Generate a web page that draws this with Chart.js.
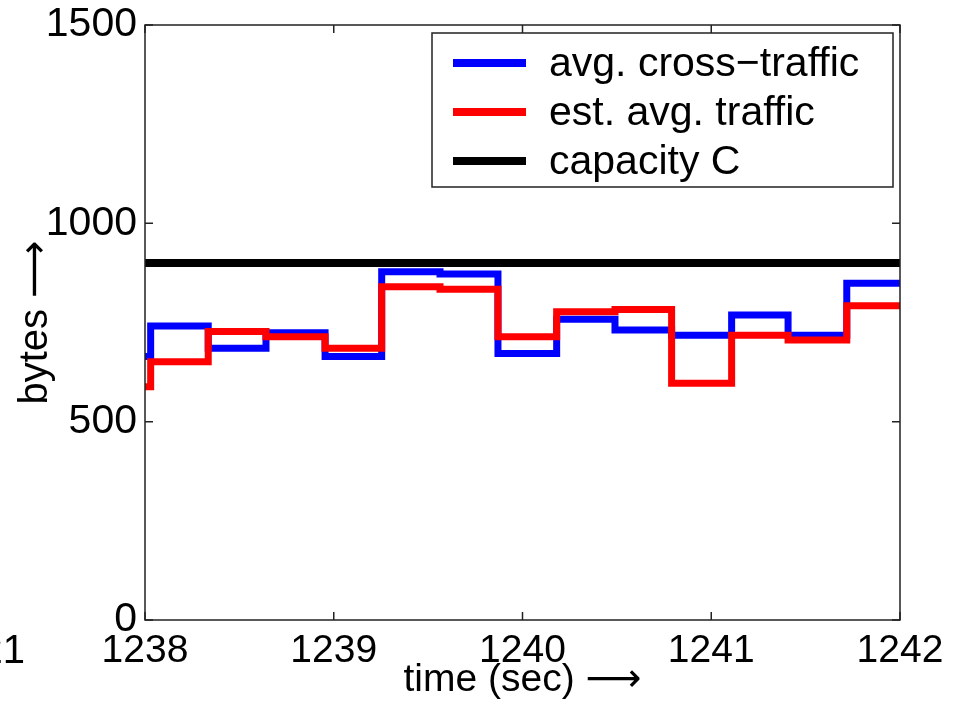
<!DOCTYPE html>
<html>
<head>
<meta charset="utf-8">
<script src="https://cdn.jsdelivr.net/npm/chart.js@4.4.1/dist/chart.umd.min.js"></script>
<style>
    body { margin: 0; background: #fff; }
    canvas { display: block; }
</style>
</head>
<body>
<canvas id="chart" width="955" height="704"></canvas>
<script>
// step start times (sec), value holds until the next time
const stepTimes = [1238, 1238.03, 1238.335, 1238.641, 1238.954, 1239.254, 1239.563, 1239.870, 1240.181, 1240.490, 1240.790, 1241.108, 1241.407, 1241.718, 1242];
const crossTraffic = [664, 741, 685, 724, 664, 878, 872, 672, 758, 731, 718, 769, 718, 849, 849];
const estTraffic = [588, 651, 727, 714, 685, 840, 834, 714, 777, 783, 597, 718, 706, 792, 792];
const capacity = 900;
const xTicks = [1238, 1239, 1240, 1241, 1242];
const yTicks = [0, 500, 1000, 1500];
const labels = ["avg. cross\u2212traffic", "est. avg. traffic", "capacity C"];

const fontFamily = "'Liberation Sans', 'DejaVu Sans', Arial, sans-serif";

function toPoints(values) {
    return stepTimes.map((t, i) => ({ x: t, y: values[i] }));
}

// box, inward ticks on all four sides, legend and the clipped label at left
const framePlugin = {
    id: 'frame',
    afterDraw(chart) {
        const ctx = chart.ctx;
        const area = chart.chartArea;
        const xs = chart.scales.x;
        const ys = chart.scales.y;
        ctx.save();
        ctx.strokeStyle = '#222';
        ctx.lineWidth = 1.5;
        ctx.strokeRect(area.left, area.top, area.right - area.left, area.bottom - area.top);

        ctx.beginPath();
        xTicks.forEach(t => {
            let px = xs.getPixelForValue(t);
            ctx.moveTo(px, area.bottom);
            ctx.lineTo(px, area.bottom - 8);
            ctx.moveTo(px, area.top);
            ctx.lineTo(px, area.top + 8);
        });
        yTicks.forEach(v => {
            let py = ys.getPixelForValue(v);
            ctx.moveTo(area.left, py);
            ctx.lineTo(area.left + 8, py);
            ctx.moveTo(area.right, py);
            ctx.lineTo(area.right - 8, py);
        });
        ctx.stroke();

        // legend
        let box = { left: 432, top: 33, right: 893, bottom: 187 };
        ctx.fillStyle = '#fff';
        ctx.fillRect(box.left, box.top, box.right - box.left, box.bottom - box.top);
        ctx.strokeStyle = '#222';
        ctx.lineWidth = 1.5;
        ctx.strokeRect(box.left, box.top, box.right - box.left, box.bottom - box.top);

        ctx.font = '41px ' + fontFamily;
        ctx.textBaseline = 'middle';
        ctx.textAlign = 'left';
        chart.data.datasets.forEach((ds, i) => {
            let y = 63 + i * 49;
            ctx.strokeStyle = ds.borderColor;
            ctx.lineWidth = 8;
            ctx.beginPath();
            ctx.moveTo(453, y);
            ctx.lineTo(526, y);
            ctx.stroke();
            ctx.fillStyle = '#000';
            ctx.fillText(ds.label, 549, y + 2);
        });

        ctx.font = '40px ' + fontFamily;
        ctx.textAlign = 'right';
        ctx.fillText('21', 25, 652);
        ctx.restore();
    }
};

new Chart(document.getElementById('chart'), {
    type: 'line',
    data: {
        datasets: [
            {
                label: labels[0],
                data: toPoints(crossTraffic),
                borderColor: '#0000ff',
                borderWidth: 7,
                stepped: 'before',
                order: 1
            },
            {
                label: labels[1],
                data: toPoints(estTraffic),
                borderColor: '#ff0000',
                borderWidth: 7,
                stepped: 'before',
                order: 0
            },
            {
                label: labels[2],
                data: [{ x: xTicks[0], y: capacity }, { x: xTicks[xTicks.length - 1], y: capacity }],
                borderColor: '#000000',
                borderWidth: 8,
                order: 0
            }
        ]
    },
    options: {
        responsive: false,
        animation: false,
        layout: { padding: { top: 25, right: 55, left: 0, bottom: 0 } },
        elements: {
            point: { radius: 0 },
            line: { borderJoinStyle: 'miter', borderCapStyle: 'butt', tension: 0 }
        },
        plugins: {
            legend: { display: false },
            tooltip: { enabled: false }
        },
        scales: {
            x: {
                type: 'linear',
                min: xTicks[0],
                max: xTicks[xTicks.length - 1],
                afterFit(scale) {
                    scale.height = 84;
                    scale.paddingLeft = 0;
                    scale.paddingRight = 0;
                },
                afterBuildTicks(scale) { scale.ticks = xTicks.map(v => ({ value: v })); },
                grid: { display: false, drawTicks: false },
                border: { display: false },
                ticks: {
                    color: '#000',
                    padding: 12,
                    maxRotation: 0,
                    font: { family: fontFamily, size: 39, lineHeight: 1 },
                    callback: v => String(v)
                },
                title: {
                    display: true,
                    text: 'time (sec) \u27f6',
                    color: '#000',
                    padding: { top: 0, bottom: 4 },
                    font: { family: fontFamily, size: 39, lineHeight: 1 }
                }
            },
            y: {
                min: yTicks[0],
                max: yTicks[yTicks.length - 1],
                afterFit(scale) {
                    scale.width = 145;
                    scale.paddingTop = 0;
                    scale.paddingBottom = 0;
                },
                afterBuildTicks(scale) { scale.ticks = yTicks.map(v => ({ value: v })); },
                grid: { display: false, drawTicks: false },
                border: { display: false },
                ticks: {
                    color: '#000',
                    padding: 8,
                    font: { family: fontFamily, size: 41, lineHeight: 1 },
                    callback: v => String(v)
                },
                title: {
                    display: true,
                    text: 'bytes \u27f6',
                    color: '#000',
                    padding: { top: 12, bottom: 0 },
                    font: { family: fontFamily, size: 40, lineHeight: 1.2 }
                }
            }
        }
    },
    plugins: [framePlugin]
});
</script>
</body>
</html>
